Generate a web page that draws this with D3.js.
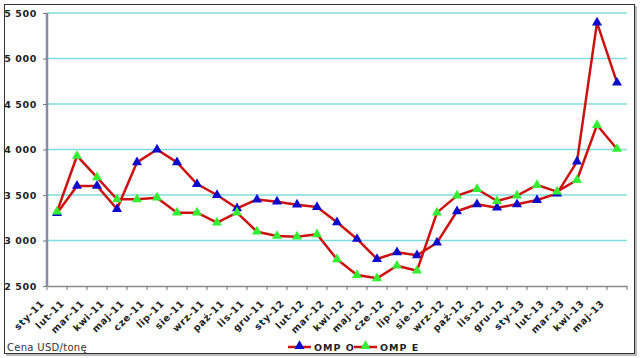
<!DOCTYPE html>
<html><head><meta charset="utf-8">
<script src="https://cdn.jsdelivr.net/npm/d3@7"></script>
<style>body{margin:0;background:#fff}svg{display:block}</style>
</head><body>
<svg id="c" width="640" height="358"></svg>
<script>
const categories = ["sty-11","lut-11","mar-11","kwi-11","maj-11","cze-11","lip-11","sie-11","wrz-11","paź-11","lis-11","gru-11",
"sty-12","lut-12","mar-12","kwi-12","maj-12","cze-12","lip-12","sie-12","wrz-12","paź-12","lis-12","gru-12",
"sty-13","lut-13","mar-13","kwi-13","maj-13"];
const ompO = [3300,3600,3600,3346,3859,4000,3859,3621,3500,3354,3450,3427,3394,3368,3200,3017,2797,2870,2837,2976,3321,3398,3361,3398,3445,3515,3866,5394,4734];
const ompE = [3317,3929,3694,3453,3453,3471,3306,3306,3196,3306,3097,3050,3042,3068,2793,2621,2584,2723,2668,3306,3493,3566,3434,3493,3610,3537,3665,4269,4006];
const yTicks = [2500,3000,3500,4000,4500,5000,5500];
const seriesNames = ["OMP O","OMP E"];
const unitLabel = "Cena USD/tonę";

const svg = d3.select("#c");
const font = "'DejaVu Sans', Verdana, sans-serif";
const pL = 47, pR = 627, pT = 13, pB = 286;

// frame with slight shadow
svg.append("rect").attr("x",6).attr("y",6).attr("width",631).attr("height",350).attr("fill","#bbb");
svg.append("rect").attr("x",4.5).attr("y",4.5).attr("width",630).attr("height",349).attr("fill","#fff").attr("stroke","#333").attr("stroke-width",1);

const x = d3.scaleBand().domain(categories).range([pL,pR]).padding(0);
const y = d3.scaleLinear().domain([2500,5500]).range([pB,pT]);
const cx = d => x(d) + x.bandwidth()/2;

// gridlines
svg.append("g").selectAll("line").data(yTicks.filter(t=>t>2500)).join("line")
  .attr("x1",pL).attr("x2",pR).attr("y1",d=>y(d)).attr("y2",d=>y(d))
  .attr("stroke","#7fdcdc").attr("stroke-width",1.5);

// y axis
const fmt = v => d3.format(",")(v).replace(/,/g," ");
const yAxis = svg.append("g").attr("transform",`translate(${pL},0)`)
  .call(d3.axisLeft(y).tickValues(yTicks).tickSize(4).tickFormat(fmt));
yAxis.select(".domain").attr("stroke","#8a8aa8").attr("stroke-width",2.5).attr("d",`M0,${pT}V${pB}`);
yAxis.selectAll(".tick line").attr("stroke","#777");
yAxis.selectAll("text").attr("font-family",font).attr("font-size",9.5).attr("font-weight","bold")
  .attr("fill","#222").attr("x",-10).attr("letter-spacing",0.6);

// x axis
const xAxis = svg.append("g").attr("transform",`translate(0,${pB})`)
  .call(d3.axisBottom(x).tickSize(0).tickFormat(""));
xAxis.select(".domain").attr("stroke","#8a8a8a").attr("stroke-width",1.5);
xAxis.selectAll(".tick").remove();
const edges = categories.map(c=>x(c)).concat([pR]);
svg.append("g").selectAll("line").data(edges).join("line")
  .attr("x1",d=>d).attr("x2",d=>d).attr("y1",pB).attr("y2",pB+4)
  .attr("stroke","#777").attr("stroke-width",1);
svg.append("g").selectAll("text").data(categories).join("text")
  .attr("transform",d=>`translate(${cx(d)-12},${pB+18}) rotate(-45)`)
  .attr("text-anchor","end")
  .attr("font-family",font).attr("font-size",9.5).attr("font-weight","bold").attr("fill","#222")
  .attr("letter-spacing",0.7)
  .text(d=>d);

// lines & markers
const line = d3.line().x((d,i)=>cx(categories[i])).y(d=>y(d));
const tri = d3.symbol().type(d3.symbolTriangle).size(44);
function drawSeries(vals,color){
  svg.append("path").datum(vals).attr("d",line).attr("fill","none")
    .attr("stroke","#cc1111").attr("stroke-width",2.5).attr("stroke-linejoin","round");
  svg.append("g").selectAll("path").data(vals).join("path")
    .attr("d",tri).attr("transform",(d,i)=>`translate(${cx(categories[i])},${y(d)})`)
    .attr("fill",color);
}
drawSeries(ompO,"#0a0acc");
drawSeries(ompE,"#33ee33");

// legend
const leg = [{name:seriesNames[0],color:"#0a0acc",x:288},{name:seriesNames[1],color:"#33ee33",x:354}];
const lg = svg.append("g");
leg.forEach(l=>{
  lg.append("line").attr("x1",l.x).attr("x2",l.x+23).attr("y1",347).attr("y2",347)
    .attr("stroke","#cc1111").attr("stroke-width",2.5);
  lg.append("path").attr("d",tri).attr("transform",`translate(${l.x+11.5},346)`).attr("fill",l.color);
  lg.append("text").attr("x",l.x+26).attr("y",351).attr("font-family",font).attr("font-size",9.5)
    .attr("font-weight","bold").attr("fill","#222").attr("letter-spacing",1).text(l.name);
});
svg.append("text").attr("x",7).attr("y",351).attr("font-family",font).attr("font-size",10)
  .attr("fill","#333").attr("letter-spacing",0.3).text(unitLabel);
</script>
</body></html>
